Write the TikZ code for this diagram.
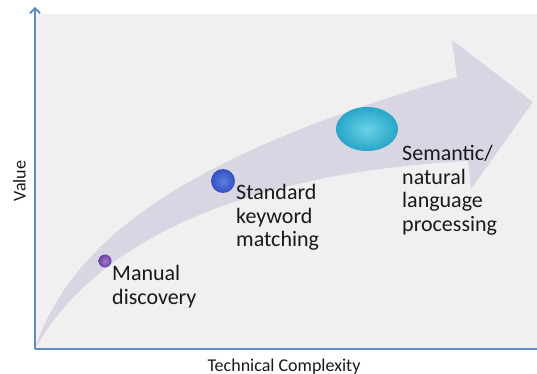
\documentclass[tikz,border=0pt]{standalone}
\usepackage{fontspec}
\setmainfont{Carlito}
\usetikzlibrary{arrows.meta}
\definecolor{bgc}{RGB}{240,240,240}
\definecolor{axisc}{RGB}{95,140,200}
\definecolor{arrowc}{RGB}{216,214,227}
\definecolor{purp}{RGB}{105,65,160}
\definecolor{purpl}{RGB}{160,125,205}
\definecolor{blu}{RGB}{50,80,195}
\definecolor{blul}{RGB}{95,125,225}
\definecolor{teal2}{RGB}{40,165,200}
\definecolor{teall}{RGB}{105,210,230}
\tikzset{
  lbl/.style={align=left, anchor=north west, font=\fontsize{22}{23.7}\selectfont, inner sep=0pt, text=black!90},
  axlbl/.style={font=\fontsize{18}{20}\selectfont, inner sep=0pt, text=black!90},
  axisline/.style={draw=axisc, line width=1.8pt},
  dot/.style={draw=none}
}
\begin{document}
\begin{tikzpicture}[x=1pt,y=-1pt]
\useasboundingbox (0,0) rectangle (537,374);
\fill[bgc] (35,14) rectangle (537,349);
% big curved arrow
\fill[arrowc] (35,349) .. controls (75,225) and (220,145) .. (457,77)
  -- (452,40) -- (533,102) -- (471,189) -- (468,161)
  .. controls (300,170) and (110,215) .. (35,349) -- cycle;
% axes
\coordinate (o) at (35,349);
\coordinate (ytop) at (35,7);
\coordinate (xend) at (537,349);
\draw[axisline] (o) -- (xend);
\draw[axisline, -{Straight Barb[length=5pt,width=10pt]}] (o) -- (ytop);
% dots
\shade[dot, inner color=purpl, outer color=purp] (105,261) circle (6.5);
\shade[dot, inner color=blul, outer color=blu] (223,181) circle (12);
\shade[dot, inner color=teall, outer color=teal2] (367,129) ellipse (31 and 22);
% labels
\node[lbl] (l1) at (112,265) {Manual\\discovery};
\node[lbl] (l2) at (236,184) {Standard\\keyword\\matching};
\node[lbl] (l3) at (402,145) {Semantic/\\natural\\language\\processing};
\node[axlbl, rotate=90] (yl) at (19.5,181) {Value};
\node[axlbl, anchor=base] (xl) at (284,371) {Technical Complexity};
\end{tikzpicture}
\end{document}
